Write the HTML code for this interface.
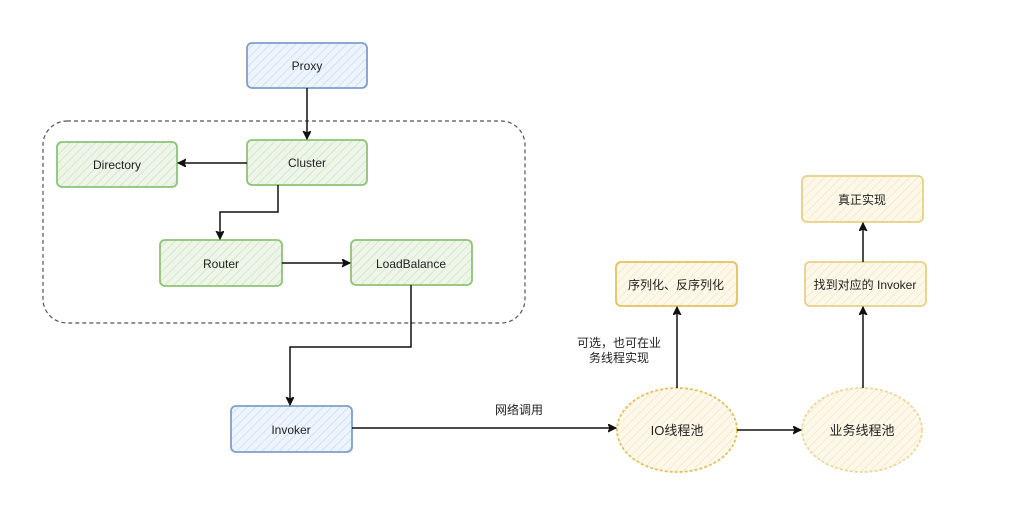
<!DOCTYPE html>
<html><head><meta charset="utf-8"><style>
html,body{margin:0;padding:0;background:#fff;}
svg{display:block;}
text{font-family:"Liberation Sans","Noto Sans CJK SC",sans-serif;font-size:12px;fill:#222;}
</style></head><body>
<svg width="1016" height="521" viewBox="0 0 1016 521" xmlns="http://www.w3.org/2000/svg">
<defs>
<pattern id="hb" width="6" height="6" patternUnits="userSpaceOnUse" patternTransform="rotate(45)"><rect width="6" height="6" fill="#eef4fb"/><line x1="0" y1="0" x2="0" y2="6" stroke="#c9daf0" stroke-width="1.5"/></pattern>
<pattern id="hg" width="6" height="6" patternUnits="userSpaceOnUse" patternTransform="rotate(45)"><rect width="6" height="6" fill="#eef5e9"/><line x1="0" y1="0" x2="0" y2="6" stroke="#cfe2c4" stroke-width="1.5"/></pattern>
<pattern id="hy" width="6" height="6" patternUnits="userSpaceOnUse" patternTransform="rotate(45)"><rect width="6" height="6" fill="#fdf8ea"/><line x1="0" y1="0" x2="0" y2="6" stroke="#f3e6c3" stroke-width="1.5"/></pattern>
<marker id="a" markerWidth="10" markerHeight="10" refX="8" refY="4" orient="auto" markerUnits="userSpaceOnUse"><path d="M0,0 L8,4 L0,8 L2,4 Z" fill="#111" stroke="#111"/></marker>
</defs>
<rect x="43" y="121" width="482" height="202" rx="24" fill="none" stroke="#555" stroke-dasharray="4,3" stroke-width="1.2"/>
<g stroke-width="1.8">
<rect x="247" y="43" width="120" height="45" rx="5" fill="url(#hb)" stroke="#7e9fcd"/>
<rect x="247" y="140" width="120" height="45" rx="5" fill="url(#hg)" stroke="#8cc474"/>
<rect x="57" y="142" width="120" height="45" rx="5" fill="url(#hg)" stroke="#8cc474"/>
<rect x="160" y="240" width="122" height="46" rx="5" fill="url(#hg)" stroke="#8cc474"/>
<rect x="351" y="240" width="121" height="45" rx="5" fill="url(#hg)" stroke="#8cc474"/>
<rect x="231" y="406" width="121" height="46" rx="5" fill="url(#hb)" stroke="#7e9fcd"/>
<rect x="616" y="262" width="121" height="44" rx="5" fill="url(#hy)" stroke="#e3c25a"/>
<rect x="805" y="262" width="121" height="44" rx="5" fill="url(#hy)" stroke="#e6d184"/>
<rect x="802" y="176" width="121" height="46" rx="5" fill="url(#hy)" stroke="#e6d184"/>
<ellipse cx="677" cy="430" rx="60" ry="42" fill="url(#hy)" stroke="#e3c25a" stroke-dasharray="3,2"/>
<ellipse cx="862" cy="430" rx="60" ry="42" fill="url(#hy)" stroke="#ead79a" stroke-dasharray="3,2"/>
</g>
<g fill="none" stroke="#111" stroke-width="1.5" marker-end="url(#a)">
<path d="M307 88 V139"/>
<path d="M247 163 H178"/>
<path d="M278 185 V212 H220 V239"/>
<path d="M282 263 H350"/>
<path d="M411 285 V347 H290 V405"/>
<path d="M352 428 H616"/>
<path d="M737 430 H801"/>
<path d="M677 388 V307"/>
<path d="M863 388 V307"/>
<path d="M863 262 V223"/>
</g>
<g text-anchor="middle">
<text x="307" y="70">Proxy</text>
<text x="307" y="167">Cluster</text>
<text x="117" y="169">Directory</text>
<text x="221" y="268">Router</text>
<text x="411" y="268">LoadBalance</text>
<text x="291" y="434">Invoker</text>
<text x="676" y="289">序列化、反序列化</text>
<text x="865" y="289">找到对应的 Invoker</text>
<text x="862" y="204">真正实现</text>
<text x="677" y="435" style="font-size:13px">IO线程池</text>
<text x="862" y="435" style="font-size:13px">业务线程池</text>
<text x="519" y="414">网络调用</text>
<text x="619" y="347">可选，也可在业</text>
<text x="619" y="362">务线程实现</text>
</g>
</svg>
</body></html>
